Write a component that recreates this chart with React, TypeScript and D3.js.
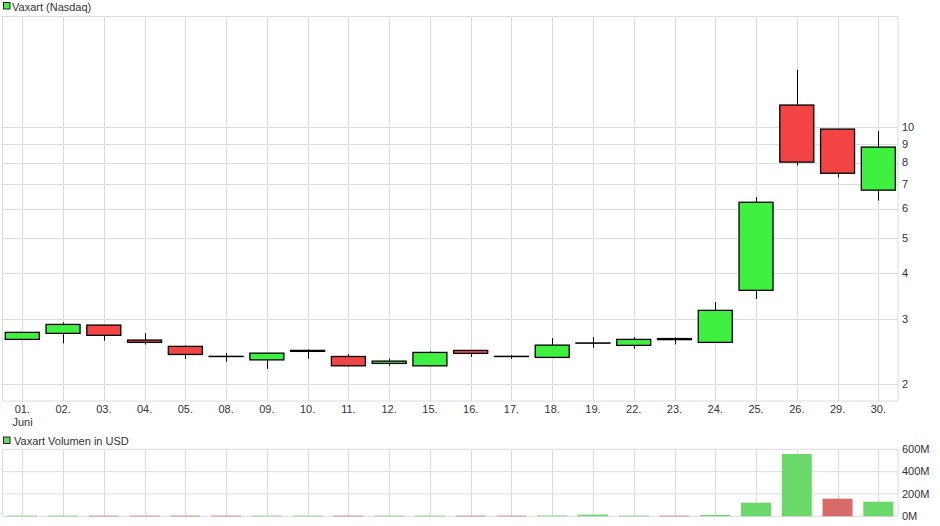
import * as d3 from "d3";
import { useEffect, useRef } from "react";

const dates = ["01.", "02.", "03.", "04.", "05.", "08.", "09.", "10.", "11.", "12.", "15.", "16.", "17.", "18.", "19.", "22.", "23.", "24.", "25.", "26.", "29.", "30."];
const opens = [2.646, 2.748, 2.894, 2.635, 2.533, 2.38, 2.328, 2.455, 2.378, 2.277, 2.243, 2.47, 2.38, 2.364, 2.584, 2.549, 2.66, 2.597, 3.597, 11.46, 9.86, 6.73];
const closes = [2.765, 2.906, 2.714, 2.597, 2.408, 2.377, 2.428, 2.47, 2.243, 2.31, 2.439, 2.424, 2.377, 2.553, 2.588, 2.646, 2.642, 3.173, 6.24, 8.02, 7.48, 8.81];
const highs = [2.765, 2.943, 2.894, 2.753, 2.553, 2.432, 2.428, 2.485, 2.413, 2.349, 2.455, 2.47, 2.399, 2.668, 2.685, 2.685, 2.68, 3.342, 6.45, 14.29, 9.86, 9.75];
const lows = [2.646, 2.581, 2.624, 2.565, 2.343, 2.299, 2.202, 2.343, 2.229, 2.243, 2.243, 2.373, 2.343, 2.364, 2.511, 2.495, 2.565, 2.597, 3.41, 7.85, 7.28, 6.3];
const volumes = [6, 6, 6, 6, 6, 6, 6, 6, 6, 6, 6, 6, 6, 7, 15, 6, 6, 12, 122, 558, 158, 131];

const priceTicks = [2, 3, 4, 5, 6, 7, 8, 9, 10];
const volumeTicks = [0, 200, 400, 600];

const W = 940;
const H = 526;
const GRID = "#dcdcdc";
const TEXT = "#333";
const GREEN = "#40f040";
const RED = "#f24444";
const VGREEN = "#6ad96a";
const VRED = "#d96a6a";

export default function App() {
  const ref = useRef<SVGSVGElement | null>(null);

  useEffect(() => {
    const svg = d3.select(ref.current);
    svg.selectAll("*").remove();

    const left = 2.5;
    const right = 898;
    const x = d3.scaleBand<string>().domain(dates).range([1.9, 898.7]).padding(0);
    const cx = (d: string) => (x(d) ?? 0) + x.bandwidth() / 2;
    const bodyW = 34;
    const barW = 30;

    const y = d3.scaleLog().domain([1.8, 20]).range([401, 16]);
    const yv = d3.scaleLinear().domain([0, 600]).range([516.3, 449.3]);

    const font = "'Liberation Sans', Arial, sans-serif";
    const g = svg.append("g").style("font-family", font).style("font-size", "11px");

    // titles
    g.append("rect").attr("x", 3.5).attr("y", 2.5).attr("width", 6.5).attr("height", 6.5)
      .attr("fill", "#44ee44").attr("stroke", "#222").attr("stroke-width", 1);
    g.append("text").attr("x", 12).attr("y", 10.5).attr("fill", TEXT).text("Vaxart (Nasdaq)");
    g.append("rect").attr("x", 3.5).attr("y", 437).attr("width", 6.5).attr("height", 6.5)
      .attr("fill", VGREEN).attr("stroke", "#222").attr("stroke-width", 1);
    g.append("text").attr("x", 14).attr("y", 444.5).attr("fill", TEXT).text("Vaxart Volumen in USD");

    // price grid
    const grid = g.append("g").attr("stroke", GRID).attr("stroke-width", 1).attr("fill", "none");
    grid.selectAll("line.v").data(dates).join("line")
      .attr("x1", (d) => Math.round(cx(d)) + 0.5).attr("x2", (d) => Math.round(cx(d)) + 0.5)
      .attr("y1", 16).attr("y2", 401);
    grid.selectAll("line.h").data(priceTicks).enter().append("line")
      .attr("x1", left).attr("x2", right)
      .attr("y1", (d) => Math.round(y(d)) + 0.5).attr("y2", (d) => Math.round(y(d)) + 0.5);
    grid.append("rect").attr("x", left).attr("y", 16.5).attr("width", right - left).attr("height", 384.5);

    // volume grid
    const vgrid = g.append("g").attr("stroke", GRID).attr("stroke-width", 1).attr("fill", "none");
    vgrid.selectAll("line").data(dates).join("line")
      .attr("x1", (d) => Math.round(cx(d)) + 0.5).attr("x2", (d) => Math.round(cx(d)) + 0.5)
      .attr("y1", yv(600)).attr("y2", yv(0));
    vgrid.selectAll("line.h").data(volumeTicks).enter().append("line")
      .attr("x1", left).attr("x2", right)
      .attr("y1", (d) => yv(d)).attr("y2", (d) => yv(d));
    vgrid.append("line").attr("x1", left).attr("x2", left).attr("y1", yv(600)).attr("y2", yv(0));
    vgrid.append("line").attr("x1", right).attr("x2", right).attr("y1", yv(600)).attr("y2", yv(0));

    // axes labels
    g.append("g").selectAll("text").data(priceTicks).join("text")
      .attr("x", 902).attr("y", (d) => y(d)).attr("dy", "0.35em").attr("fill", TEXT)
      .text((d) => String(d));
    g.append("g").selectAll("text").data(volumeTicks).join("text")
      .attr("x", 902).attr("y", (d) => yv(d)).attr("dy", "0.35em").attr("fill", TEXT)
      .text((d) => `${d}M`);
    g.append("g").selectAll("text").data(dates).join("text")
      .attr("x", (d) => cx(d)).attr("y", 413).attr("text-anchor", "middle").attr("fill", TEXT)
      .text((d) => d);
    g.append("text").attr("x", 12.5).attr("y", 426).attr("fill", TEXT).text("Juni");

    // candles
    const idx = d3.range(dates.length);
    const candles = g.append("g").selectAll("g").data(idx).join("g");
    candles.append("line")
      .attr("x1", (i) => Math.round(cx(dates[i])) + 0.5).attr("x2", (i) => Math.round(cx(dates[i])) + 0.5)
      .attr("y1", (i) => y(highs[i])).attr("y2", (i) => y(lows[i]))
      .attr("stroke", "#000").attr("stroke-width", 1);
    candles.append("rect")
      .attr("x", (i) => cx(dates[i]) - bodyW / 2)
      .attr("width", bodyW)
      .attr("y", (i) => y(Math.max(opens[i], closes[i])))
      .attr("height", (i) => Math.max(0.01, Math.abs(y(opens[i]) - y(closes[i]))))
      .attr("fill", (i) => (closes[i] >= opens[i] ? GREEN : RED))
      .attr("stroke", "#000").attr("stroke-width", 1.3);

    // volume bars: colour follows close vs previous close
    const up = (i: number) => i === 0 || closes[i] >= closes[i - 1];
    g.append("g").selectAll("rect").data(idx).join("rect")
      .attr("x", (i) => cx(dates[i]) - barW / 2)
      .attr("width", barW)
      .attr("y", (i) => yv(volumes[i]))
      .attr("height", (i) => yv(0) - yv(volumes[i]))
      .attr("fill", (i) => (up(i) ? VGREEN : VRED));
  }, []);

  return (
    <div style={{ position: "absolute", left: 0, top: 0 }}>
      <svg ref={ref} width={W} height={H} style={{ display: "block", background: "#fff" }} />
    </div>
  );
}
